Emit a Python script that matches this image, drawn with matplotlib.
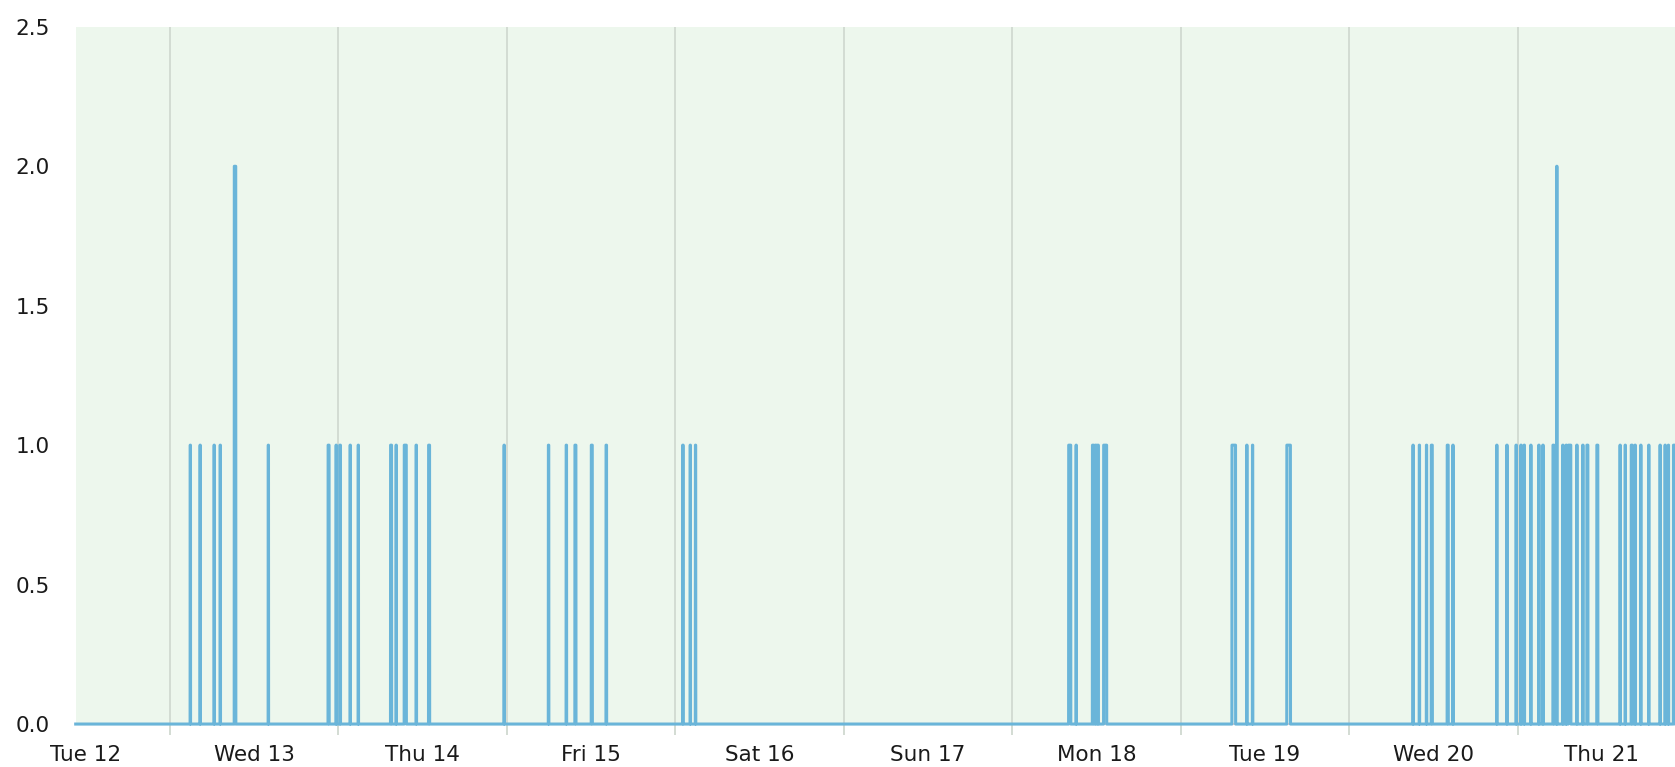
import matplotlib
matplotlib.use("Agg")
import matplotlib.pyplot as plt
import matplotlib.dates as mdates
import numpy as np
import pandas as pd

# pulse events: start time, duration (minutes), level
event_times = [
    "2024-03-13 02:53", "2024-03-13 04:17", "2024-03-13 06:17", "2024-03-13 07:09",
    "2024-03-13 09:10", "2024-03-13 14:00", "2024-03-13 22:32", "2024-03-13 23:40",
    "2024-03-14 00:12", "2024-03-14 01:40", "2024-03-14 02:49", "2024-03-14 07:26",
    "2024-03-14 08:13", "2024-03-14 09:23", "2024-03-14 11:04", "2024-03-14 12:51",
    "2024-03-14 23:36", "2024-03-15 05:55", "2024-03-15 08:27", "2024-03-15 09:42",
    "2024-03-15 12:02", "2024-03-15 14:08", "2024-03-16 01:03", "2024-03-16 02:07",
    "2024-03-16 02:52", "2024-03-18 08:03", "2024-03-18 09:06", "2024-03-18 11:26",
    "2024-03-18 11:50", "2024-03-18 12:10", "2024-03-18 13:02", "2024-03-19 07:19",
    "2024-03-19 09:25", "2024-03-19 10:14", "2024-03-19 15:08", "2024-03-20 09:06",
    "2024-03-20 10:00", "2024-03-20 11:01", "2024-03-20 11:43", "2024-03-20 13:59",
    "2024-03-20 14:47", "2024-03-20 21:02", "2024-03-20 22:28", "2024-03-20 23:47",
    "2024-03-21 00:28", "2024-03-21 00:56", "2024-03-21 01:53", "2024-03-21 03:01",
    "2024-03-21 03:36", "2024-03-21 05:03", "2024-03-21 05:35", "2024-03-21 06:26",
    "2024-03-21 06:55", "2024-03-21 07:15", "2024-03-21 08:26", "2024-03-21 09:17",
    "2024-03-21 09:53", "2024-03-21 11:18", "2024-03-21 14:36", "2024-03-21 15:20",
    "2024-03-21 16:12", "2024-03-21 16:44", "2024-03-21 17:33", "2024-03-21 18:41",
    "2024-03-21 20:18", "2024-03-21 21:01", "2024-03-21 21:29", "2024-03-21 22:13",
]
event_minutes = [
    2, 2, 2, 2, 12, 2, 8, 2,
    5, 2, 2, 8, 2, 17, 3, 8,
    2, 3, 3, 8, 8, 4, 4, 2,
    2, 17, 2, 10, 8, 6, 25, 30,
    2, 2, 30, 2, 2, 2, 8, 8,
    2, 2, 3, 3, 3, 3, 2, 3,
    3, 8, 2, 3, 3, 20, 3, 3,
    8, 8, 2, 2, 8, 3, 2, 2,
    2, 2, 2, 20,
]
event_values = [
    1, 1, 1, 1, 2, 1, 1, 1,
    1, 1, 1, 1, 1, 1, 1, 1,
    1, 1, 1, 1, 1, 1, 1, 1,
    1, 1, 1, 1, 1, 1, 1, 1,
    1, 1, 1, 1, 1, 1, 1, 1,
    1, 1, 1, 1, 1, 1, 1, 1,
    1, 1, 2, 1, 1, 1, 1, 1,
    1, 1, 1, 1, 1, 1, 1, 1,
    1, 1, 1, 1,
]
range_start = pd.Timestamp("2024-03-12 10:37")
range_end = pd.Timestamp("2024-03-21 22:26")

# build the line from the pulse list
one = pd.Timedelta(minutes=1)
xs = [range_start - 3 * one]
ys = [0]
for t, m, v in zip(pd.to_datetime(event_times), event_minutes, event_values):
    xs += [t - one, t, t + pd.Timedelta(minutes=m), t + pd.Timedelta(minutes=m) + one]
    ys += [0, v, v, 0]
xs.append(range_end + 10 * one)
ys.append(0)

fig = plt.figure(figsize=(16.75, 7.67), dpi=100)
ax = fig.add_axes([0.0454, 0.056, 0.9546, 0.909])
ax.set_facecolor("#edf7ed")

ax.plot(xs, ys, color="#6ab5d9", linewidth=2.2, solid_joinstyle="round",
        clip_on=False, zorder=3)

ax.set_xlim(range_start, range_end)
ax.set_ylim(0, 2.5)
ax.set_yticks([0, 0.5, 1.0, 1.5, 2.0, 2.5])
ax.set_yticklabels(["0.0", "0.5", "1.0", "1.5", "2.0", "2.5"])

# labels at noon, grid lines at midnight
ax.xaxis.set_major_locator(mdates.HourLocator(byhour=[12]))
ax.xaxis.set_major_formatter(mdates.DateFormatter("%a %d"))
ax.xaxis.set_minor_locator(mdates.HourLocator(byhour=[0]))
ax.grid(which="minor", axis="x", color="#d3dcd3", linewidth=1.4)
ax.tick_params(axis="x", which="major", length=0, pad=15, labelsize=15.5, colors="#1a1a1a")
ax.tick_params(axis="x", which="minor", length=8, width=1.4, color="#d3dcd3")
ax.tick_params(axis="y", length=0, pad=19, labelsize=15.5, colors="#1a1a1a")

for s in ["top", "right", "left"]:
    ax.spines[s].set_visible(False)
ax.spines["bottom"].set_color("#e3cfcb")
ax.spines["bottom"].set_linewidth(1.5)

fig.savefig("out.png", dpi=100, facecolor="white")
